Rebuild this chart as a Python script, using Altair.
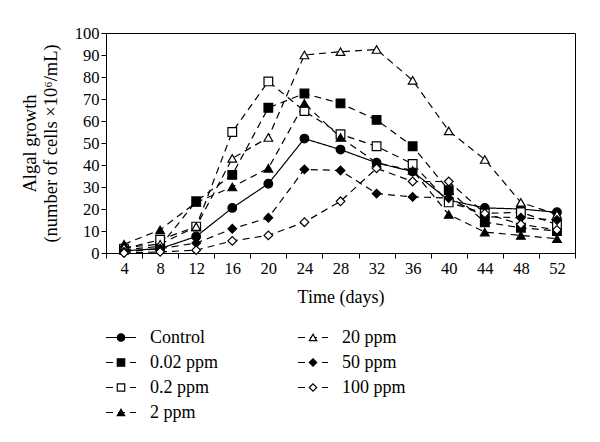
import altair as alt
import pandas as pd

days = [4, 8, 12, 16, 20, 24, 28, 32, 36, 40, 44, 48, 52]
series = ["Control", "0.02 ppm", "0.2 ppm", "2 ppm", "20 ppm", "50 ppm", "100 ppm"]
control = [1, 2, 7.5, 20.5, 31.5, 52, 47, 41, 37, 24, 20.5, 20, 18.5]
ppm_002 = [1.5, 3, 23.5, 35.5, 66, 72.5, 68, 60.5, 48.5, 28.5, 14, 11.5, 10]
ppm_02 = [2, 6, 12, 55, 78, 64.5, 54, 48.5, 40.5, 23, 18, 18.5, 13]
ppm_2 = [4, 10.5, 23, 30, 38.5, 68, 52.5, 41, 37.5, 17.5, 9.5, 8, 6.5]
ppm_20 = [2.5, 4, 12, 43, 52.5, 90, 91.5, 92.5, 78.5, 55.5, 42.5, 23, 17.5]
ppm_50 = [0.5, 2, 4.5, 11, 16, 38, 37.5, 27, 25.5, 25, 16.5, 16, 15]
ppm_100 = [0, 0.5, 1.3, 5.5, 8, 14, 23.5, 38.5, 32.5, 32.5, 18, 13, 10.5]
values = [control, ppm_002, ppm_02, ppm_2, ppm_20, ppm_50, ppm_100]

shapes = ["circle", "square", "square", "triangle-up", "triangle-up", "diamond", "diamond"]
fills = ["black", "black", "white", "black", "white", "black", "white"]
dashes = [[1, 0], [7, 5], [7, 5], [7, 5], [7, 5], [7, 5], [7, 5]]
legend_dashes = [[1, 0], [8, 14], [8, 14], [8, 14], [8, 14], [8, 14], [8, 14]]
legend_col = [0, 0, 0, 0, 1, 1, 1]
legend_row = [0, 1, 2, 3, 0, 1, 2]

rows = []
for s, vals in zip(series, values):
    for d, v in zip(days, vals):
        rows.append({"series": s, "day": d, "value": v})
df = pd.DataFrame(rows)

FONT = "Liberation Serif"

shape_scale = alt.Scale(domain=series, range=shapes)
fill_scale = alt.Scale(domain=series, range=fills)
dash_scale = alt.Scale(domain=series, range=dashes)

x_enc = alt.X(
    "day:O",
    scale=alt.Scale(type="band", paddingInner=0, paddingOuter=0),
    axis=alt.Axis(title="Time (days)", labelAngle=0, tickBand="extent",
                  labelFontSize=16.5, titleFontSize=18, titlePadding=12),
)
y_enc = alt.Y(
    "value:Q",
    scale=alt.Scale(domain=[0, 100]),
    axis=alt.Axis(title=["Algal growth", "(number of cells ×10⁶/mL)"],
                  values=list(range(0, 101, 10)), grid=False,
                  labelFontSize=16.5, titleFontSize=18.5, titlePadding=14),
)

base = alt.Chart(df)
lines = base.mark_line(color="black", strokeWidth=1.2).encode(
    x=x_enc, y=y_enc,
    strokeDash=alt.StrokeDash("series:N", scale=dash_scale, legend=None),
    detail="series:N",
)
points = base.mark_point(size=75, stroke="black", strokeWidth=1.2, opacity=1, filled=False).encode(
    x=x_enc, y=y_enc,
    shape=alt.Shape("series:N", scale=shape_scale, legend=None),
    fill=alt.Fill("series:N", scale=fill_scale, legend=None),
)
top = alt.layer(lines, points).properties(
    width=469, height=220,
    view=alt.ViewBackground(stroke="black", strokeWidth=1),
)

# legend panel
leg = pd.DataFrame({"series": series, "col": legend_col, "row": legend_row})
lbase = alt.Chart(leg).transform_calculate(
    x0="datum.col * 192", x1="datum.col * 192 + 30",
    xm="datum.col * 192 + 15", xt="datum.col * 192 + 44",
)
lx = alt.Scale(domain=[0, 469], nice=False, zero=False)
ly = alt.Scale(domain=[-0.5, 3.5], reverse=True, nice=False, zero=False)
lrule = lbase.mark_rule(color="black", strokeWidth=1.2).encode(
    x=alt.X("x0:Q", scale=lx, axis=None), x2="x1:Q",
    y=alt.Y("row:Q", scale=ly, axis=None),
    strokeDash=alt.StrokeDash("series:N", scale=alt.Scale(domain=series, range=legend_dashes), legend=None),
)
lpoint = lbase.mark_point(size=55, stroke="black", strokeWidth=1.2, opacity=1, filled=False).encode(
    x=alt.X("xm:Q", scale=lx, axis=None),
    y=alt.Y("row:Q", scale=ly, axis=None),
    shape=alt.Shape("series:N", scale=shape_scale, legend=None),
    fill=alt.Fill("series:N", scale=fill_scale, legend=None),
)
ltext = lbase.mark_text(align="left", baseline="middle", font=FONT, fontSize=18, color="black").encode(
    x=alt.X("xt:Q", scale=lx, axis=None),
    y=alt.Y("row:Q", scale=ly, axis=None),
    text="series:N",
)
legend = alt.layer(lrule, lpoint, ltext).properties(
    width=469, height=100, view=alt.ViewBackground(stroke=None)
)

chart = alt.vconcat(top, legend, spacing=18).properties(
    padding={"left": 12, "top": 16, "right": 5, "bottom": 0}
).configure(font=FONT).configure_axis(
    labelFont=FONT, titleFont=FONT, labelColor="black", titleColor="black",
    domainColor="black", tickColor="black", tickSize=5, titleFontWeight="normal",
).configure_view(stroke=None)

chart.save("out.html", embed_options={"renderer": "svg", "actions": False})
